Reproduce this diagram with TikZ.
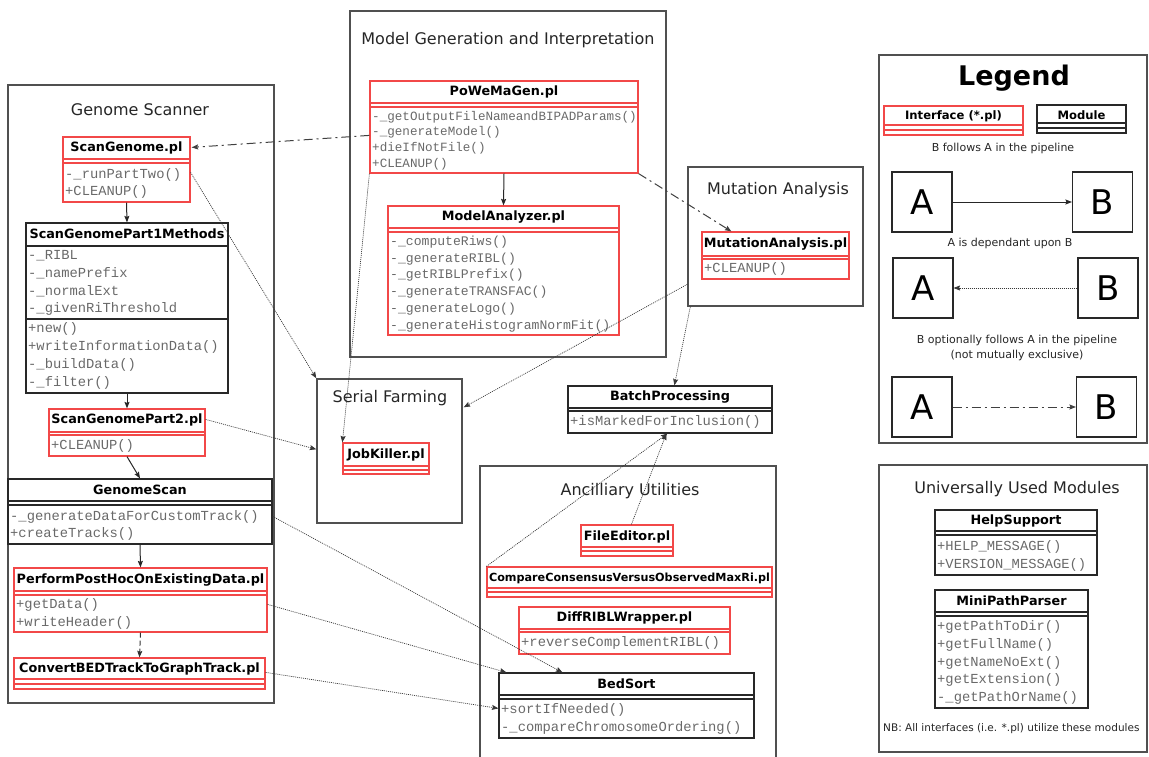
\documentclass[tikz,border=0pt]{standalone}
\usepackage{fontspec}
\setmainfont{DejaVu Sans}
\newfontfamily\monof{Liberation Mono}
\usetikzlibrary{arrows.meta,calc,fit}

\definecolor{ifred}{RGB}{242,72,72}
\definecolor{mdline}{RGB}{40,40,40}
\definecolor{grpline}{RGB}{80,80,80}
\definecolor{methgray}{RGB}{105,105,105}
\definecolor{conn}{RGB}{55,55,55}

% compartment separator inside a class box, at absolute height #3
\newcommand{\cmpline}[3]{\draw[#1] (#2.west |- 0,#3) -- (#2.east |- 0,#3);}
% list of members: #1 font size, #2 x, #3 first y, #4 step, #5 items
\newcommand{\memberlist}[5]{%
  \foreach \t [count=\i from 0] in {#5}
    {\node[meth, font=\monof\fontsize{#1}{#1}\selectfont] at ({#2},{#3+\i*#4}) {\t};}}

\begin{document}
\begin{tikzpicture}[x=1pt,y=-1pt,
  group/.style={draw=grpline, line width=1.4pt, inner sep=0pt},
  gtitle/.style={font=\fontsize{16}{18}\selectfont, text=black!85, inner sep=0pt},
  ifbox/.style={draw=ifred, line width=1.2pt, inner sep=0pt},
  mdbox/.style={draw=mdline, line width=1.2pt, inner sep=0pt},
  ifsep/.style={draw=ifred, line width=1.1pt},
  mdsep/.style={draw=mdline, line width=1.1pt},
  ttl/.style={font=\bfseries\fontsize{12.8}{15}\selectfont, inner sep=0pt},
  meth/.style={anchor=west, inner sep=0pt, text=methgray},
  lgbox/.style={draw=mdline, line width=1.1pt, minimum width=60pt, minimum height=60pt,
    inner sep=0pt, font=\fontsize{34}{34}\selectfont},
  lgtext/.style={font=\fontsize{11}{15.5}\selectfont, text=black!85, inner sep=0pt},
  tip/.tip={Stealth[length=6.5pt,width=5pt,inset=1pt]},
  follows/.style={draw=black!85, line width=1pt, -tip},
  depends/.style={draw=conn, line width=0.7pt, dash pattern=on 1pt off 1pt, -tip},
  optional/.style={draw=black!75, line width=1pt, dash pattern=on 9pt off 4pt on 2pt off 4pt, -tip},
  optshort/.style={draw=black!80, line width=1pt, dash pattern=on 5pt off 3pt, -tip},
]
\useasboundingbox (0,0) rectangle (1149,757);
\clip (0,0) rectangle (1149,757);

% ---------- package groups ----------
\node[group, fit={(8,85) (274,703)}] (gsc) {};
\node[gtitle] (gscT) at (140,110) {Genome Scanner};
\node[group, fit={(350,11) (666,357)}] (mgi) {};
\node[gtitle] (mgiT) at (508,40) {Model Generation and Interpretation};
\node[group, fit={(688,167) (863,306)}] (mut) {};
\node[gtitle] (mutT) at (778,190) {Mutation Analysis};
\node[group, fit={(317,379) (462,523)}] (sfm) {};
\node[gtitle] (sfmT) at (390,398) {Serial Farming};
\node[group, fit={(480,466) (776,775)}] (anc) {};
\node[gtitle] (ancT) at (630,491) {Ancilliary Utilities};
\node[group, fit={(879,55) (1147,443)}] (leg) {};
\node[group, fit={(879,465) (1147,752)}] (uum) {};
\node[gtitle] (uumT) at (1017,489) {Universally Used Modules};

% ---------- Genome Scanner ----------
\node[ifbox, fit={(63,137) (190,202)}] (sg) {};
\node[ttl] at (126.5,148) {ScanGenome.pl};
\cmpline{ifsep}{sg}{159}\cmpline{ifsep}{sg}{163}
\memberlist{13.8}{65}{175}{17}{-\_runPartTwo(),+CLEANUP()}

\node[mdbox, fit={(26,223) (228,393)}] (p1) {};
\node[ttl] at (127,234) {ScanGenomePart1Methods};
\cmpline{mdsep}{p1}{246}\cmpline{mdsep}{p1}{319}
\memberlist{13.8}{28}{256}{17.7}{-\_RIBL,-\_namePrefix,-\_normalExt,-\_givenRiThreshold}
\memberlist{13.8}{28}{329}{18}{+new(),+writeInformationData(),-\_buildData(),-\_filter()}

\node[ifbox, fit={(49,409) (205,456)}] (p2) {};
\node[ttl] at (127,420) {ScanGenomePart2.pl};
\cmpline{ifsep}{p2}{432}\cmpline{ifsep}{p2}{435}
\memberlist{13.8}{51}{446}{17}{+CLEANUP()}

\node[mdbox, fit={(8,479) (272,544)}] (gs) {};
\node[ttl] at (140,490) {GenomeScan};
\cmpline{mdsep}{gs}{501}\cmpline{mdsep}{gs}{505}
\memberlist{13.8}{10}{517}{17}{-\_generateDataForCustomTrack(),+createTracks()}

\node[ifbox, fit={(14,568) (267,632)}] (ph) {};
\node[ttl] at (140.5,580) {PerformPostHocOnExistingData.pl};
\cmpline{ifsep}{ph}{591}\cmpline{ifsep}{ph}{595}
\memberlist{13.8}{16}{605}{18}{+getData(),+writeHeader()}

\node[ifbox, fit={(14,658) (265,689)}] (cb) {};
\node[ttl] at (139.5,669) {ConvertBEDTrackToGraphTrack.pl};
\cmpline{ifsep}{cb}{679}\cmpline{ifsep}{cb}{684}

% ---------- Model Generation and Interpretation ----------
\node[ifbox, fit={(370,81) (638,173)}] (pwm) {};
\node[ttl] at (504,92) {PoWeMaGen.pl};
\cmpline{ifsep}{pwm}{103}\cmpline{ifsep}{pwm}{107}
\memberlist{12.6}{372}{117}{15.7}{-\_getOutputFileNameandBIPADParams(),-\_generateModel(),+dieIfNotFile(),+CLEANUP()}

\node[ifbox, fit={(388,206) (619,335)}] (ma) {};
\node[ttl] at (503.5,217) {ModelAnalyzer.pl};
\cmpline{ifsep}{ma}{228}\cmpline{ifsep}{ma}{232}
\memberlist{13.1}{390}{242}{16.8}{-\_computeRiws(),-\_generateRIBL(),-\_getRIBLPrefix(),-\_generateTRANSFAC(),-\_generateLogo(),-\_generateHistogramNormFit()}

% ---------- Mutation Analysis ----------
\node[ifbox, fit={(702,232) (849,279)}] (mu) {};
\node[ttl] at (775.5,244) {MutationAnalysis.pl};
\cmpline{ifsep}{mu}{256}\cmpline{ifsep}{mu}{259}
\memberlist{13.8}{704}{269}{17}{+CLEANUP()}

% ---------- Serial Farming ----------
\node[ifbox, fit={(343,443) (429,474)}] (jk) {};
\node[ttl] at (386,455) {JobKiller.pl};
\cmpline{ifsep}{jk}{466}\cmpline{ifsep}{jk}{470}

% ---------- Batch processing ----------
\node[mdbox, fit={(568,386) (772,433)}] (bp) {};
\node[ttl] at (670,397) {BatchProcessing};
\cmpline{mdsep}{bp}{408}\cmpline{mdsep}{bp}{411}
\memberlist{13.8}{570}{422}{17}{+isMarkedForInclusion()}

% ---------- Ancilliary Utilities ----------
\node[ifbox, fit={(581,525) (673,556)}] (fe) {};
\node[ttl] at (627,537) {FileEditor.pl};
\cmpline{ifsep}{fe}{547}\cmpline{ifsep}{fe}{551}

\node[ifbox, fit={(487,567) (772,597)}] (cc) {};
\node[ttl, font=\bfseries\fontsize{11.2}{13}\selectfont] at (629.5,578) {CompareConsensusVersusObservedMaxRi.pl};
\cmpline{ifsep}{cc}{588}\cmpline{ifsep}{cc}{592}

\node[ifbox, fit={(519,607) (730,654)}] (dr) {};
\node[ttl] at (624.5,618) {DiffRIBLWrapper.pl};
\cmpline{ifsep}{dr}{629}\cmpline{ifsep}{dr}{632}
\memberlist{13.8}{521}{643}{17}{+reverseComplementRIBL()}

\node[mdbox, fit={(499,673) (754,738)}] (bs) {};
\node[ttl] at (626.5,684) {BedSort};
\cmpline{mdsep}{bs}{695}\cmpline{mdsep}{bs}{699}
\memberlist{13.8}{501}{710}{18}{+sortIfNeeded(),-\_compareChromosomeOrdering()}

% ---------- Universally Used Modules ----------
\node[mdbox, fit={(935,510) (1097,575)}] (hs) {};
\node[ttl] at (1016,521) {HelpSupport};
\cmpline{mdsep}{hs}{531}\cmpline{mdsep}{hs}{535}
\memberlist{13.8}{937}{547}{18}{+HELP\_MESSAGE(),+VERSION\_MESSAGE()}

\node[mdbox, fit={(935,590) (1088,708)}] (mp) {};
\node[ttl] at (1011.5,601) {MiniPathParser};
\cmpline{mdsep}{mp}{612}\cmpline{mdsep}{mp}{616}
\memberlist{13.8}{937}{627}{17.75}{+getPathToDir(),+getFullName(),+getNameNoExt(),+getExtension(),-\_getPathOrName()}

\node[lgtext, font=\fontsize{10.5}{12}\selectfont, anchor=west] (nb) at (883,729) {NB: All interfaces (i.e. *.pl) utilize these modules};

% ---------- Legend ----------
\node[font=\bfseries\fontsize{27}{30}\selectfont, inner sep=0pt] (legT) at (1014,78) {Legend};
\node[ifbox, fit={(884,106) (1023,135)}] (lif) {};
\node[ttl, font=\bfseries\fontsize{11.6}{13}\selectfont] at (953.5,116) {Interface (*.pl)};
\cmpline{ifsep}{lif}{125}\cmpline{ifsep}{lif}{130}
\node[mdbox, fit={(1037,105) (1126,133)}] (lmd) {};
\node[ttl, font=\bfseries\fontsize{11.6}{13}\selectfont] at (1081.5,115) {Module};
\cmpline{mdsep}{lmd}{123}\cmpline{mdsep}{lmd}{128}

\node[lgtext] (lt1) at (1003,148) {B follows A in the pipeline};
\node[lgbox] (la1) at (922,202) {A};
\node[lgbox] (lb1) at (1102.5,202) {B};
\node[lgtext] (lt2) at (1010,243) {A is dependant upon B};
\node[lgbox] (la2) at (923,288) {A};
\node[lgbox] (lb2) at (1108,288) {B};
\node[lgtext, align=center] (lt3) at (1017,348) {B optionally follows A in the pipeline\\(not mutually exclusive)};
\node[lgbox] (la3) at (922,407) {A};
\node[lgbox] (lb3) at (1106.5,407) {B};

\draw[follows] (la1.east) -- (lb1.west);
\draw[depends] (lb2.west) -- (la2.east);
\draw[optional] (la3.east) -- (lb3.west);

% ---------- pipeline order ----------
\draw[follows] (sg.south) -- (p1.north);
\draw[follows] (p1.south) -- (p2.north);
\draw[follows] (p2.south) -- (gs.north);
\draw[follows] (gs.south) -- (ph.north);
\draw[optshort] (ph.south) -- (cb.north);
\draw[follows] (pwm.south) -- (ma.north);

% ---------- optional follow-ups ----------
\draw[optional] ($(pwm.north west)+(0,55)$) -- ($(sg.north east)+(1,11)$);
\draw[optional] (pwm.south east) -- ($(mu.north west)+(30,0)$);

% ---------- dependencies ----------
\draw[depends] ($(sg.north east)+(0,36)$) -- (sfm.north west);
\draw[depends] (pwm.south west) -- (jk.north west);
\draw[depends] ($(mut.north west)+(0,118)$) -- ($(sfm.north east)+(1,29)$);
\draw[depends] ($(mut.south west)+(3,0)$) -- ($(bp.north west)+(107,0)$);
\draw[depends] ($(p2.north east)+(0,11)$) -- ($(sfm.north west)+(0,71)$);
\draw[depends] ($(gs.north east)+(0,38)$) -- ($(bs.north west)+(64,0)$);
\draw[depends] ($(ph.north east)+(0,37)$) -- ($(bs.north west)+(8,0)$);
\draw[depends] ($(cb.north east)+(0,15)$) -- ($(bs.north west)+(0,36)$);
\draw[depends] (cc.north west) -- ($(bp.south west)+(100,0)$);
\draw[depends] ($(fe.north west)+(51,0)$) -- ($(bp.south west)+(99,0)$);
\end{tikzpicture}
\end{document}
